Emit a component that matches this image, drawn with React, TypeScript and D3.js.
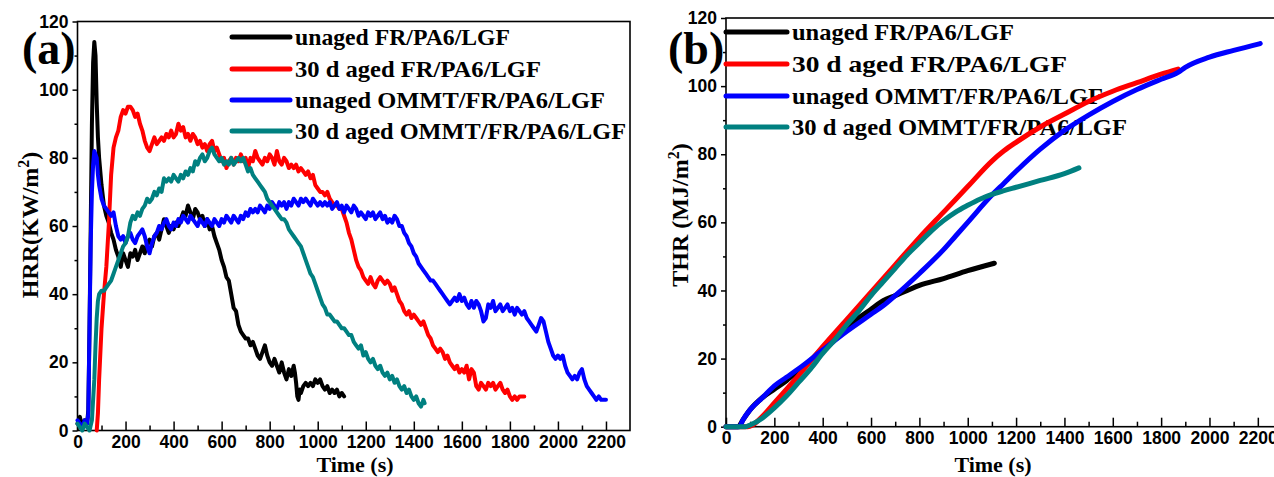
import * as d3 from 'd3';
import { useEffect, useRef } from 'react';

// legend / series names and colours
const seriesNames = ['unaged FR/PA6/LGF', '30 d aged FR/PA6/LGF', 'unaged OMMT/FR/PA6/LGF', '30 d aged OMMT/FR/PA6/LGF'];
const seriesColors = ['#000000', '#ff0000', '#0000ff', '#008080'];

const xTickValues = [0, 200, 400, 600, 800, 1000, 1200, 1400, 1600, 1800, 2000, 2200];
const xMinorValues = [100, 300, 500, 700, 900, 1100, 1300, 1500, 1700, 1900, 2100];
const yTickValues = [0, 20, 40, 60, 80, 100, 120];
const yMinorValues = [10, 30, 50, 70, 90, 110];

// (a) heat release rate, [time s, HRR kW/m2]
const hrrUnaged = [
  [0, 2], [10, 4], [20, 1], [30, 3], [40, 2], [45, 6], [50, 30], [55, 60], [60, 90], [65, 108], [70, 114], [75, 110], [80, 96], [85, 86], [90, 80],
  [100, 72], [110, 66], [120, 63], [130, 61], [140, 58], [150, 56], [160, 53], [170, 51], [180, 48], [190, 52], [200, 50], [210, 48], [220, 52],
  [230, 51], [240, 53], [250, 50], [260, 52], [270, 54], [280, 52], [290, 55], [300, 56], [310, 54], [320, 57], [330, 58], [340, 56], [350, 59],
  [360, 62], [370, 60], [380, 58], [390, 60], [400, 59], [410, 61], [420, 60], [430, 62], [440, 64], [450, 63], [460, 66], [470, 64], [480, 62],
  [490, 65], [500, 64], [510, 62], [520, 63], [530, 60], [540, 62], [550, 59], [560, 60], [570, 57], [580, 55], [590, 53], [600, 50], [610, 48],
  [620, 45], [630, 44], [640, 40], [650, 36], [660, 35], [670, 31], [680, 29], [690, 28], [700, 27], [710, 27], [720, 25], [730, 26], [740, 24],
  [750, 22], [760, 21], [770, 23], [780, 25], [790, 22], [800, 20], [810, 19], [820, 21], [830, 19], [840, 17], [850, 20], [860, 17], [870, 15],
  [880, 18], [890, 16], [900, 19], [905, 17], [910, 14], [915, 10], [920, 9], [925, 12], [930, 11], [940, 13], [950, 14], [960, 13], [970, 14],
  [980, 13], [990, 15], [1000, 14], [1010, 15], [1020, 13], [1030, 12], [1040, 13], [1050, 11], [1060, 12], [1070, 11], [1080, 12], [1090, 10],
  [1100, 11], [1110, 10],
];
const hrrAged = [
  [80, 0], [85, 5], [90, 15], [100, 30], [110, 40], [120, 48], [130, 60], [140, 75], [150, 83], [160, 86], [170, 88], [180, 92], [190, 94],
  [200, 93], [210, 95], [220, 95], [230, 94], [240, 92], [250, 93], [260, 90], [270, 88], [280, 85], [290, 83], [300, 82], [310, 84], [320, 86],
  [330, 84], [340, 85], [350, 86], [360, 85], [370, 87], [380, 86], [390, 88], [400, 86], [410, 87], [420, 90], [430, 88], [440, 89], [450, 86],
  [460, 87], [470, 85], [480, 87], [490, 86], [500, 84], [510, 85], [520, 83], [530, 84], [540, 82], [550, 84], [560, 85], [570, 82], [580, 83],
  [590, 81], [600, 79], [610, 80], [620, 77], [630, 79], [640, 80], [650, 78], [660, 80], [670, 79], [680, 81], [690, 79], [700, 80], [710, 77],
  [720, 80], [730, 79], [740, 82], [750, 80], [760, 79], [770, 78], [780, 80], [790, 79], [800, 81], [810, 80], [820, 78], [830, 82], [840, 79],
  [850, 78], [860, 80], [870, 79], [880, 77], [890, 78], [900, 77], [910, 78], [920, 76], [930, 77], [940, 76], [950, 75], [960, 76], [970, 74],
  [980, 75], [990, 72], [1000, 71], [1010, 70], [1020, 70], [1030, 69], [1040, 70], [1050, 68], [1060, 67], [1070, 66], [1080, 66], [1090, 65],
  [1100, 65], [1110, 63], [1120, 61], [1130, 58], [1140, 56], [1150, 53], [1160, 50], [1170, 48], [1180, 47], [1190, 45], [1200, 44], [1210, 43],
  [1220, 45], [1230, 43], [1240, 42], [1250, 44], [1260, 45], [1270, 44], [1280, 43], [1290, 44], [1300, 43], [1310, 41], [1320, 42], [1330, 40],
  [1340, 38], [1350, 37], [1360, 35], [1370, 34], [1380, 35], [1390, 33], [1400, 34], [1410, 33], [1420, 32], [1430, 31], [1440, 32], [1450, 30],
  [1460, 28], [1470, 27], [1480, 25], [1490, 24], [1500, 23], [1510, 24], [1520, 23], [1530, 21], [1540, 22], [1550, 20], [1560, 19], [1570, 18],
  [1580, 19], [1590, 17], [1600, 18], [1610, 17], [1620, 19], [1630, 15], [1640, 18], [1650, 17], [1660, 13], [1670, 12], [1680, 14], [1690, 13],
  [1700, 12], [1710, 14], [1720, 13], [1730, 14], [1740, 12], [1750, 13], [1760, 14], [1770, 12], [1780, 11], [1790, 12], [1800, 10], [1810, 9],
  [1820, 10], [1830, 9], [1840, 10], [1850, 10], [1860, 10],
];
const hrrOmmt = [
  [0, 3], [10, 2], [20, 1], [30, 3], [40, 2], [45, 5], [50, 30], [55, 55], [60, 70], [65, 78], [70, 82], [75, 81], [80, 80], [85, 75], [90, 72],
  [100, 68], [110, 66], [120, 65], [130, 64], [140, 63], [150, 64], [160, 60], [170, 57], [180, 56], [190, 57], [200, 55], [210, 57], [220, 58],
  [230, 56], [240, 55], [250, 57], [260, 58], [270, 59], [280, 57], [290, 54], [300, 52], [310, 55], [320, 57], [330, 58], [340, 60], [350, 59],
  [360, 61], [370, 62], [380, 60], [390, 59], [400, 61], [410, 60], [420, 62], [430, 61], [440, 63], [450, 62], [460, 61], [470, 63], [480, 62],
  [490, 61], [500, 60], [510, 62], [520, 61], [530, 60], [540, 62], [550, 61], [560, 60], [570, 62], [580, 61], [590, 60], [600, 62], [610, 61],
  [620, 63], [630, 62], [640, 61], [650, 63], [660, 62], [670, 61], [680, 63], [690, 62], [700, 64], [710, 63], [720, 65], [730, 64], [740, 65],
  [750, 64], [760, 66], [770, 65], [780, 64], [790, 66], [800, 65], [810, 67], [820, 66], [830, 65], [840, 67], [850, 66], [860, 67], [870, 65],
  [880, 67], [890, 66], [900, 68], [910, 67], [920, 66], [930, 68], [940, 67], [950, 68], [960, 67], [970, 66], [980, 68], [990, 67], [1000, 66],
  [1010, 67], [1020, 66], [1030, 67], [1040, 66], [1050, 67], [1060, 65], [1070, 66], [1080, 67], [1090, 65], [1100, 66], [1110, 64], [1120, 66],
  [1130, 65], [1140, 64], [1150, 66], [1160, 65], [1170, 63], [1180, 64], [1190, 63], [1200, 62], [1210, 64], [1220, 63], [1230, 64], [1240, 62],
  [1250, 63], [1260, 64], [1270, 62], [1280, 63], [1290, 61], [1300, 62], [1310, 61], [1320, 63], [1330, 62], [1340, 60], [1350, 60], [1360, 58],
  [1370, 57], [1380, 55], [1390, 54], [1400, 52], [1410, 51], [1420, 49], [1430, 48], [1440, 47], [1450, 46], [1460, 45], [1470, 44], [1480, 44],
  [1490, 43], [1500, 42], [1510, 41], [1520, 40], [1530, 39], [1540, 38], [1550, 37], [1560, 38], [1570, 39], [1580, 38], [1590, 40], [1600, 38],
  [1610, 39], [1620, 37], [1630, 36], [1640, 38], [1650, 36], [1660, 38], [1670, 37], [1680, 35], [1690, 32], [1700, 33], [1710, 37], [1720, 36],
  [1730, 38], [1740, 35], [1750, 36], [1760, 37], [1770, 35], [1780, 36], [1790, 37], [1800, 35], [1810, 36], [1820, 34], [1830, 36], [1840, 35],
  [1850, 34], [1860, 35], [1870, 33], [1880, 32], [1890, 31], [1900, 30], [1910, 29], [1920, 31], [1930, 33], [1940, 32], [1950, 29], [1960, 26],
  [1970, 24], [1980, 22], [1990, 21], [2000, 22], [2010, 21], [2020, 22], [2030, 19], [2040, 17], [2050, 16], [2060, 15], [2070, 16], [2080, 15],
  [2090, 17], [2100, 18], [2110, 15], [2120, 13], [2130, 12], [2140, 11], [2150, 10], [2160, 9], [2170, 10], [2180, 9], [2190, 9], [2200, 9],
];
const hrrOmmtAged = [
  [0, 2], [10, 1], [20, 0], [30, 2], [40, 1], [50, 0], [60, 3], [70, 15], [75, 25], [80, 33], [85, 38], [90, 40], [100, 41], [110, 41], [120, 42],
  [130, 43], [140, 44], [150, 46], [160, 48], [170, 50], [180, 52], [190, 54], [200, 55], [210, 57], [220, 61], [230, 63], [240, 62], [250, 64],
  [260, 63], [270, 65], [280, 66], [290, 68], [300, 67], [310, 68], [320, 70], [330, 69], [340, 71], [350, 70], [360, 74], [370, 73], [380, 74],
  [390, 73], [400, 75], [410, 74], [420, 73], [430, 75], [440, 74], [450, 76], [460, 75], [470, 77], [480, 76], [490, 79], [500, 78], [510, 80],
  [520, 81], [530, 79], [540, 80], [550, 82], [560, 83], [570, 81], [580, 80], [590, 79], [600, 80], [610, 78], [620, 79], [630, 78], [640, 80],
  [650, 78], [660, 79], [670, 80], [680, 79], [690, 80], [700, 78], [710, 76], [720, 77], [730, 75], [740, 74], [750, 73], [760, 72], [770, 71],
  [780, 70], [790, 68], [800, 67], [810, 66], [820, 65], [830, 64], [840, 63], [850, 62], [860, 62], [870, 61], [880, 59], [890, 58], [900, 57],
  [910, 56], [920, 55], [930, 54], [940, 52], [950, 50], [960, 48], [970, 46], [980, 45], [990, 43], [1000, 41], [1010, 39], [1020, 37], [1030, 36],
  [1040, 34], [1050, 34], [1060, 33], [1070, 32], [1080, 32], [1090, 31], [1100, 30], [1110, 30], [1120, 29], [1130, 28], [1140, 28], [1150, 26],
  [1160, 25], [1170, 24], [1180, 25], [1190, 22], [1200, 23], [1210, 21], [1220, 20], [1230, 21], [1240, 19], [1250, 18], [1260, 19], [1270, 17],
  [1280, 16], [1290, 17], [1300, 15], [1310, 16], [1320, 14], [1330, 15], [1340, 13], [1350, 12], [1360, 13], [1370, 11], [1380, 12], [1390, 10],
  [1400, 9], [1410, 10], [1420, 8], [1430, 7], [1440, 9], [1445, 8],
];

// (b) total heat release, [time s, THR MJ/m2]
const thrUnaged = [
  [0, 0], [50, 0], [70, 2], [100, 5], [150, 8.5], [200, 11], [250, 13.5], [300, 16.5], [350, 19.5], [400, 23], [450, 26], [500, 29], [550, 32],
  [600, 34.5], [650, 37], [700, 38.5], [750, 40], [800, 41.5], [900, 43.5], [1000, 45.8], [1110, 48],
];
const thrAged = [
  [0, 0], [90, 0], [110, 0.5], [150, 3], [200, 7], [300, 15], [400, 23.5], [500, 31.5], [600, 39.5], [700, 47.5], [800, 55.5], [900, 63],
  [1000, 70.5], [1100, 78], [1150, 81], [1200, 83.5], [1300, 88], [1400, 91.8], [1500, 95.5], [1600, 98.5], [1700, 101], [1800, 103.5], [1870, 105],
];
const thrOmmt = [
  [0, 0], [55, 0], [70, 2], [100, 5], [150, 8.5], [200, 12], [250, 14.5], [300, 17], [400, 22.5], [500, 28], [600, 33], [650, 35.5], [700, 38.5],
  [800, 45], [900, 52], [950, 56], [1000, 60], [1100, 68], [1150, 71.5], [1200, 75], [1300, 81.5], [1400, 87], [1500, 91.5], [1600, 95.5],
  [1700, 99], [1800, 102], [1870, 104], [1900, 105.5], [2000, 108.5], [2100, 110.5], [2210, 112.5],
];
const thrOmmtAged = [
  [0, 0], [80, 0], [100, 0.5], [150, 2.5], [200, 5.5], [250, 9], [300, 13], [350, 17], [400, 21.5], [450, 25.5], [500, 30], [550, 34], [600, 38.5],
  [650, 42.5], [700, 46.5], [750, 50.5], [800, 54], [850, 57.5], [900, 60.5], [950, 63], [1000, 65], [1050, 66.8], [1100, 68.2], [1150, 69.3],
  [1200, 70.3], [1300, 72.3], [1400, 74.3], [1460, 76],
];

const SANS = '"Liberation Sans", Arial, sans-serif';
const SERIF = '"Liberation Serif", "Times New Roman", serif';

export default function App() {
  const chartRef = useRef(null);

  useEffect(() => {
    const svg = d3.select(chartRef.current);
    svg.selectAll('*').remove();

    const panels = [
      {
        tag: '(a)', tagX: 22, title: 'HRR(KW/m', titleX: 38, titleY: 225, timeX: 355,
        left: 77.5, right: 630, bottom: 430.5, top: 21.5,
        series: [hrrUnaged, hrrAged, hrrOmmt, hrrOmmtAged], lineWidth: 4, curve: d3.curveLinear,
        legendX: [232, 290], legendRows: [37, 69, 100, 131], legendLen: [215, 246, 310, 331],
      },
      {
        tag: '(b)', tagX: 668, title: 'THR (MJ/m', titleX: 688, titleY: 215, timeX: 993,
        left: 726, right: 1282, bottom: 426.7, top: 18,
        series: [thrUnaged, thrAged, thrOmmt, thrOmmtAged], lineWidth: 5, curve: d3.curveMonotoneX,
        legendX: [726, 787], legendRows: [32, 64, 96, 127], legendLen: [222, 275, 311, 335],
      },
    ];

    panels.forEach((p) => {
      const x = d3.scaleLinear().domain([0, 2300]).range([p.left, p.right]);
      const y = d3.scaleLinear().domain([0, 120]).range([p.bottom, p.top]);
      const g = svg.append('g');

      // frame
      g.append('rect')
        .attr('x', p.left).attr('y', p.top)
        .attr('width', p.right - p.left).attr('height', p.bottom - p.top)
        .attr('fill', 'none').attr('stroke', '#000').attr('stroke-width', 1.6);

      // x axis, ticks point inward
      const xa = g.append('g').attr('transform', `translate(0,${p.bottom})`)
        .call(d3.axisBottom(x).tickValues(xTickValues).tickFormat(d3.format('d'))
          .tickSizeInner(-9).tickSizeOuter(0).tickPadding(5));
      g.append('g').attr('transform', `translate(0,${p.bottom})`)
        .call(d3.axisBottom(x).tickValues(xMinorValues).tickSizeInner(-5).tickSizeOuter(0).tickFormat(() => ''));

      // y axis, ticks point outward
      const ya = g.append('g').attr('transform', `translate(${p.left},0)`)
        .call(d3.axisLeft(y).tickValues(yTickValues).tickFormat(d3.format('d'))
          .tickSizeInner(5).tickSizeOuter(0).tickPadding(4));
      g.append('g').attr('transform', `translate(${p.left},0)`)
        .call(d3.axisLeft(y).tickValues(yMinorValues).tickSizeInner(3).tickSizeOuter(0).tickFormat(() => ''));

      g.selectAll('.domain').remove();
      g.selectAll('.tick line').attr('stroke', '#000').attr('stroke-width', 1.5);
      [xa, ya].forEach((a) => a.selectAll('text')
        .attr('fill', '#000')
        .style('font-family', SANS)
        .style('font-weight', 'bold')
        .style('font-size', '17.5px'));

      // axis titles
      g.append('text')
        .attr('x', p.timeX)
        .attr('y', 472)
        .attr('text-anchor', 'middle')
        .style('font-family', SERIF).style('font-weight', 'bold').style('font-size', '22px')
        .text('Time (s)');

      const yt = g.append('text')
        .attr('transform', `translate(${p.titleX},${p.titleY}) rotate(-90)`)
        .attr('text-anchor', 'middle')
        .style('font-family', SERIF).style('font-weight', 'bold').style('font-size', '24px');
      yt.append('tspan').text(p.title);
      yt.append('tspan').attr('dy', -9).style('font-size', '16px').text('2');
      yt.append('tspan').attr('dy', 9).text(')');

      // panel tag
      g.append('text')
        .attr('x', p.tagX).attr('y', 64)
        .style('font-family', SERIF).style('font-weight', 'bold').style('font-size', '46px')
        .text(p.tag);

      // legend
      seriesNames.forEach((name, i) => {
        g.append('line')
          .attr('x1', p.legendX[0]).attr('x2', p.legendX[1])
          .attr('y1', p.legendRows[i]).attr('y2', p.legendRows[i])
          .attr('stroke', seriesColors[i]).attr('stroke-width', 5).attr('stroke-linecap', 'round');
        g.append('text')
          .attr('x', p.legendX[1] + 5).attr('y', p.legendRows[i] + 8)
          .attr('textLength', p.legendLen[i]).attr('lengthAdjust', 'spacingAndGlyphs')
          .style('font-family', SERIF).style('font-weight', 'bold').style('font-size', '23.5px')
          .text(name);
      });

      // curves
      const line = d3.line()
        .x((d) => x(d[0]))
        .y((d) => y(d[1]))
        .curve(p.curve);
      p.series.forEach((s, i) => {
        g.append('path')
          .datum(s)
          .attr('d', line)
          .attr('fill', 'none')
          .attr('stroke', seriesColors[i])
          .attr('stroke-width', p.lineWidth)
          .attr('stroke-linejoin', 'round')
          .attr('stroke-linecap', 'round');
      });
    });

    return () => {
      d3.select(chartRef.current).selectAll('*').remove();
    };
  }, []);

  return (
    <svg
      ref={chartRef}
      width={1274}
      height={477}
      style={{ position: 'absolute', left: 0, top: 0, background: '#fff' }}
    />
  );
}
